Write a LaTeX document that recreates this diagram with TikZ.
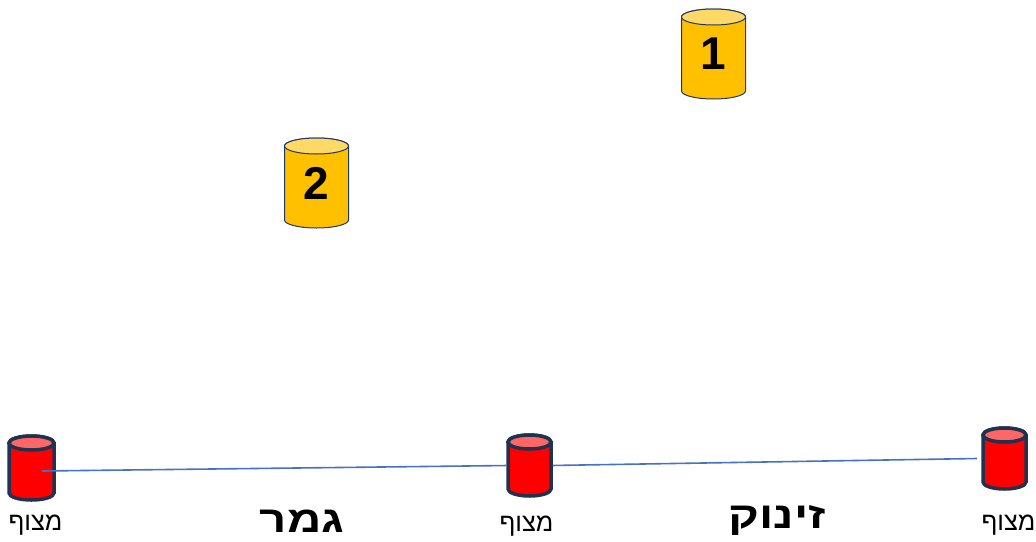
\documentclass[tikz,border=0pt]{standalone}
\usepackage{fontspec}
\setmainfont{Liberation Sans}
\newfontfamily\hebfont[Script=Hebrew]{Liberation Sans}
\newfontfamily\hebwide[Script=Hebrew, FakeStretch=1.28]{Liberation Sans}
\TeXXeTstate=1
\usepackage{tikz}
\usetikzlibrary{positioning}
\definecolor{buoyline}{HTML}{1F3350}
\definecolor{buoytop}{HTML}{FF6666}
\definecolor{gateline}{HTML}{203864}
\definecolor{gatebody}{HTML}{FFC000}
\definecolor{gatetop}{HTML}{FFD966}
\definecolor{wireblue}{HTML}{4472C4}

\pgfdeclarelayer{background}
\pgfsetlayers{background,main}

% drum shape behind a node: name, x radius, y radius, path style, top colour
\newcommand\drum[5]{%
	\begin{pgfonlayer}{background}
		\path[#4] ([yshift=-#3]#1.north west) -- ([yshift=#3]#1.south west)
			arc[start angle=180, end angle=360, x radius=#2, y radius=#3]
			-- ([yshift=-#3]#1.north east)
			arc[start angle=0, end angle=180, x radius=#2, y radius=#3] -- cycle;
		\path[#4, fill=#5] ([yshift=-#3]#1.north) ellipse[x radius=#2, y radius=#3];
	\end{pgfonlayer}}

\tikzset{
	buoy/.style={minimum width=43pt, minimum height=61pt, inner sep=0pt, outer sep=0pt},
	buoyfill/.style={draw=buoyline, line width=3.5pt, fill=red},
	gate/.style={minimum width=64pt, minimum height=90pt, inner sep=0pt, outer sep=0pt,
		font=\bfseries\fontsize{46}{46}\selectfont},
	gatefill/.style={draw=gateline, line width=1pt, fill=gatebody},
	buoytxt/.style={anchor=base, inner sep=0pt, font=\hebfont\fontsize{25.5}{25.5}\selectfont},
	legtxt/.style={anchor=base, inner sep=0pt, font=\hebwide\bfseries\fontsize{37}{37}\selectfont},
	wire/.style={draw=wireblue, line width=1.6pt}
}

\begin{document}
\begin{tikzpicture}[x=1pt, y=-1pt]
	\useasboundingbox (0,0) rectangle (1036,541);
	
	\node[gate] (g1) at (713.5,54) {1};
	\node[gate] (g2) at (316.5,183) {2};
	\drum{g1}{32pt}{8pt}{gatefill}{gatetop}
	\drum{g2}{32pt}{8pt}{gatefill}{gatetop}
	
	\node[buoy, minimum width=45pt, minimum height=64pt] (b1) at (31.5,468) {};
	\node[buoy] (b2) at (529.5,465.5) {};
	\node[buoy] (b3) at (1004.5,458.5) {};
	\drum{b1}{22.5pt}{7pt}{buoyfill}{buoytop}
	\drum{b2}{21.5pt}{7pt}{buoyfill}{buoytop}
	\drum{b3}{21.5pt}{7pt}{buoyfill}{buoytop}
	
	\node[buoytxt] (t1) at (35.5,530) {\beginR מצוף\endR};
	\node[buoytxt] (t2) at (526.5,531) {\beginR מצוף\endR};
	\node[buoytxt] (t3) at (1008.5,530) {\beginR מצוף\endR};
	
	\node[legtxt] (finish) at (302,532) {\beginR גמר\endR};
	\node[legtxt] (start) at (777,528) {\beginR זינוק\endR};
	
	\coordinate (s) at (42,471);
	\draw[wire, shorten >=1.75pt] (s) -- (b2.west);
	\draw[wire, shorten <=1.75pt] (b2.east) -- ([xshift=-6pt]b3.west);
\end{tikzpicture}
\end{document}
